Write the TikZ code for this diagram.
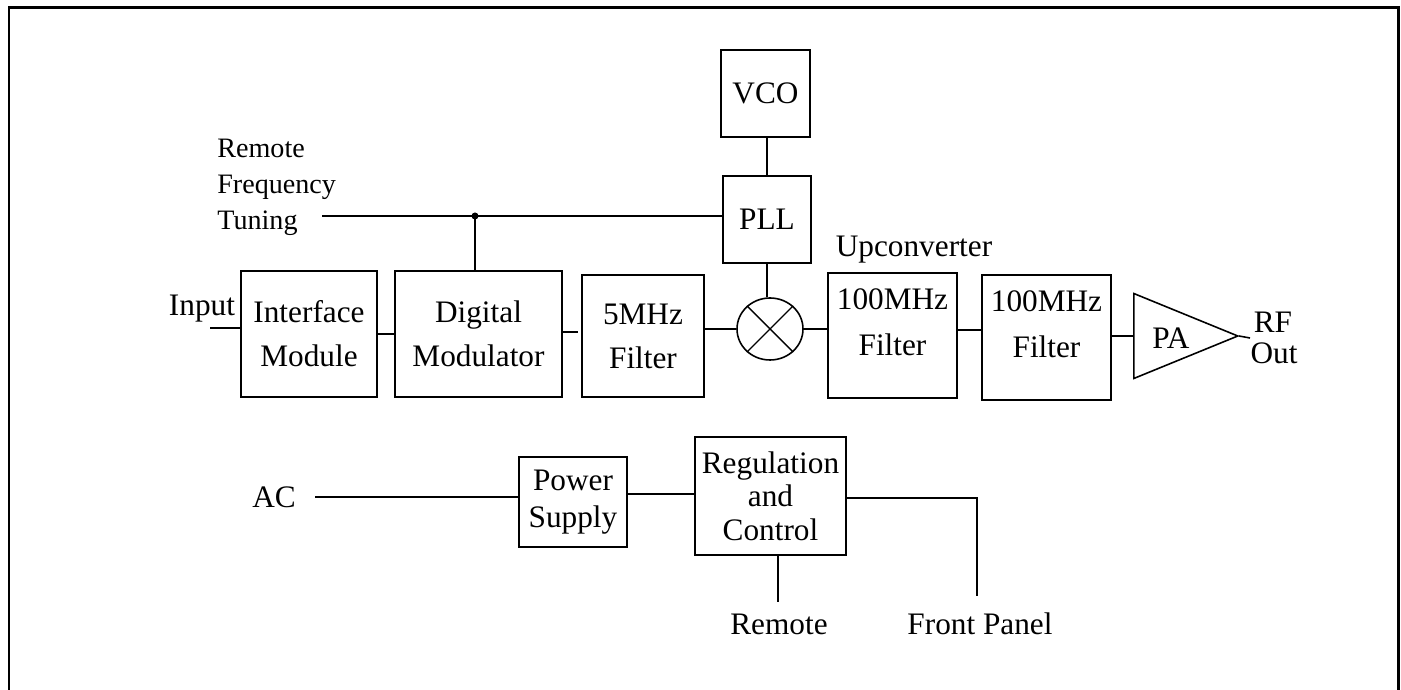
\documentclass[tikz,border=0pt]{standalone}
\usepackage{fontspec}
\setmainfont{Liberation Serif}
\usetikzlibrary{shapes.geometric}
\tikzset{
  blockbox/.style={draw,line width=1.1pt,align=center,inner sep=0pt,font=\fontsize{17.8}{20}\selectfont},
  plaintext/.style={inner sep=0pt,align=center,font=\fontsize{17.8}{20}\selectfont},
  smalltext/.style={inner sep=0pt,anchor=west,font=\fontsize{16}{18}\selectfont},
  wire/.style={line width=1.1pt}
}
\begin{document}
\begin{tikzpicture}[x=0.2mm,y=-0.2mm]
\useasboundingbox (0,0) rectangle (1401,690);
% Outer frame
\draw[line width=1.7pt] (9,690) -- (9,8) -- (1398,8) -- (1398,690);

% Upper chain
\node[blockbox,minimum width=27.2mm,minimum height=25.2mm] (iface) at (309,334) {Interface\\[5pt]Module};
\node[blockbox,minimum width=33.4mm,minimum height=25.2mm] (dmod) at (478.5,334) {Digital\\[5pt]Modulator};
\node[blockbox,minimum width=24.4mm,minimum height=24.4mm] (lpf) at (643,336) {5MHz\\[5pt]Filter};
\node[draw,ellipse,line width=0.9pt,minimum width=13.2mm,minimum height=12.4mm,inner sep=0pt] (mixer) at (770,329) {};
\node[blockbox,minimum width=25.8mm,minimum height=25mm] (filta) at (892.5,335.5) {100MHz\\[6pt]Filter\\[-5pt]\mbox{}};
\node[blockbox,minimum width=25.8mm,minimum height=25mm] (filtb) at (1046.5,337.5) {100MHz\\[6pt]Filter\\[-5pt]\mbox{}};
\node[draw,isosceles triangle,isosceles triangle apex angle=79,isosceles triangle stretches,line width=0.9pt,minimum width=17mm,minimum height=20.8mm,inner sep=0pt,anchor=lower side] (pa) at (1133,336) {};
\node[plaintext] (palabel) at (1171,338) {PA};

% PLL and VCO
\node[blockbox,minimum width=17.8mm,minimum height=17.4mm] (vco) at (765.5,93.5) {VCO};
\node[blockbox,minimum width=17.6mm,minimum height=17.4mm] (pll) at (767,219.5) {PLL};

% Power section
\node[blockbox,minimum width=21.6mm,minimum height=18mm] (psu) at (573,502) {Power\\[1pt]Supply};
\node[blockbox,minimum width=30.2mm,minimum height=23.6mm] (reg) at (770.5,496) {Regulation\\[-1pt]and\\[-1pt]Control};

% Labels
\node[smalltext] (rmt) at (217,148) {Remote};
\node[smalltext] (frq) at (217,187) {Frequency};
\node[smalltext] (tun) at (217,223) {Tuning};
\node[plaintext] (inp) at (202,309) {Input};
\node[plaintext] (upc) at (914,250) {Upconverter};
\node[plaintext] (rf) at (1273,322) {RF};
\node[plaintext] (out) at (1274,353) {Out};
\node[plaintext] (ac) at (274,497) {AC};
\node[plaintext] (rmtb) at (779,624) {Remote};
\node[plaintext] (fp) at (980,624) {Front Panel};

% Free ends
\coordinate (tunend) at (322,216);
\coordinate (inend) at (210,328);
\coordinate (acend) at (315,497);
\coordinate (rfend) at (1250,338);
\coordinate (rmtend) at (778,602);
\coordinate (fpend) at (977,596);
\coordinate (dot) at (475,216);
\coordinate (gapend) at (578,332);

% Mixer cross
\draw[line width=0.8pt] (mixer.45) -- (mixer.225);
\draw[line width=0.8pt] (mixer.135) -- (mixer.315);

% Connectors
\draw[wire] (tunend) -- (tunend -| pll.west);
\fill (dot) circle (3.5);
\draw[wire] (dot) -- (dot |- dmod.north);
\draw[wire] (pll.north |- vco.south) -- (pll.north);
\draw[wire] (pll.south) -- (pll.south |- mixer.north);
\draw[wire] (inend) -- (inend -| iface.west);
\draw[wire] (iface.east) -- (dmod.west);
\draw[wire] (gapend -| dmod.east) -- (gapend);
\draw[wire] (mixer.west -| lpf.east) -- (mixer.west);
\draw[wire] (mixer.east) -- (mixer.east -| filta.west);
\draw[wire] ([yshift=1.1mm]filta.east) -- ([yshift=1.1mm]filta.east -| filtb.west);
\draw[wire] ([yshift=0.3mm]filtb.east) -- ([yshift=0.3mm]filtb.east -| pa.lower side);
\draw[line width=0.9pt] (pa.apex) -- (rfend);
\draw[wire] (acend) -- (acend -| psu.west);
\draw[wire] ([yshift=1.6mm]psu.east) -- ([yshift=1.6mm]psu.east -| reg.west);
\draw[wire] ([yshift=-0.4mm]reg.east) -| (fpend);
\draw[wire] (rmtend |- reg.south) -- (rmtend);
\end{tikzpicture}
\end{document}
